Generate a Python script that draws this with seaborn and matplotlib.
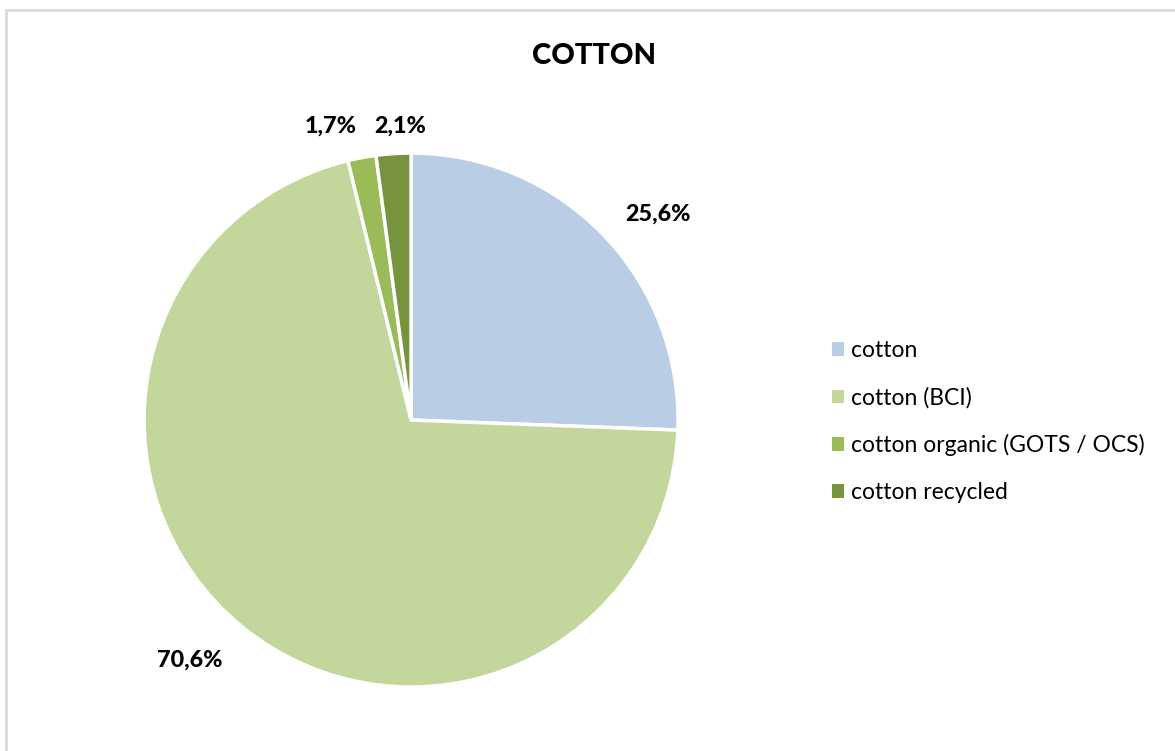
import matplotlib
matplotlib.use('Agg')
import matplotlib.pyplot as plt
import matplotlib.patches as mpatches
import seaborn as sns

# chart data
categories = ['cotton', 'cotton (BCI)', 'cotton organic (GOTS / OCS)', 'cotton recycled']
shares = [25.6, 70.6, 1.7, 2.1]
colors = ['#B9CDE5', '#C3D69B', '#9BBB59', '#77933C']
title = 'COTTON'

sns.set_theme(style='white')
plt.rcParams['font.family'] = ['Lato', 'DejaVu Sans']
plt.rcParams['text.color'] = 'black'

fig = plt.figure(figsize=(11.75, 7.51), dpi=100)

# thin grey frame like the office chart area
fig.patches.append(mpatches.Rectangle((6 / 1175, -0.1), 1.2, 1 - 10 / 751 + 0.1,
                                      transform=fig.transFigure, fill=False,
                                      edgecolor='#D9D9D9', linewidth=2))

ax = fig.add_axes([0.1226, 0.0852, 0.4545, 0.711])
wedges, texts, autotexts = ax.pie(
    shares, colors=colors, startangle=90, counterclock=False,
    autopct=lambda p: f'{p:.1f}%'.replace('.', ','), pctdistance=1.2,
    wedgeprops=dict(edgecolor='white', linewidth=2.5),
    textprops=dict(fontsize=16.8, fontweight='black', color='black'))
ax.set_aspect('equal')
ax.set_xlim(-1, 1)
ax.set_ylim(-1, 1)
ax.axis('off')

# nudge the slice labels to where the original puts them
x, y = autotexts[0].get_position()
autotexts[0].set_position((x + 0.06, y - 0.06))
x, y = autotexts[1].get_position()
autotexts[1].set_position((x - 0.07, y + 0.03))
autotexts[2].set_position((-0.30, 1.10))
autotexts[3].set_position((-0.04, 1.10))

fig.text(0.506, 0.925, title, ha='center', va='center', fontsize=21, fontweight='black')

handles = [mpatches.Patch(facecolor=c, edgecolor='none', label=l) for c, l in zip(colors, categories)]
fig.legend(handles=handles, loc='center left', bbox_to_anchor=(0.700, 0.4385), frameon=False,
           fontsize=16.5, handlelength=0.55, handleheight=0.55, handletextpad=0.3,
           labelspacing=1.12, borderaxespad=0)

fig.savefig('out.png', dpi=100, facecolor='white')
